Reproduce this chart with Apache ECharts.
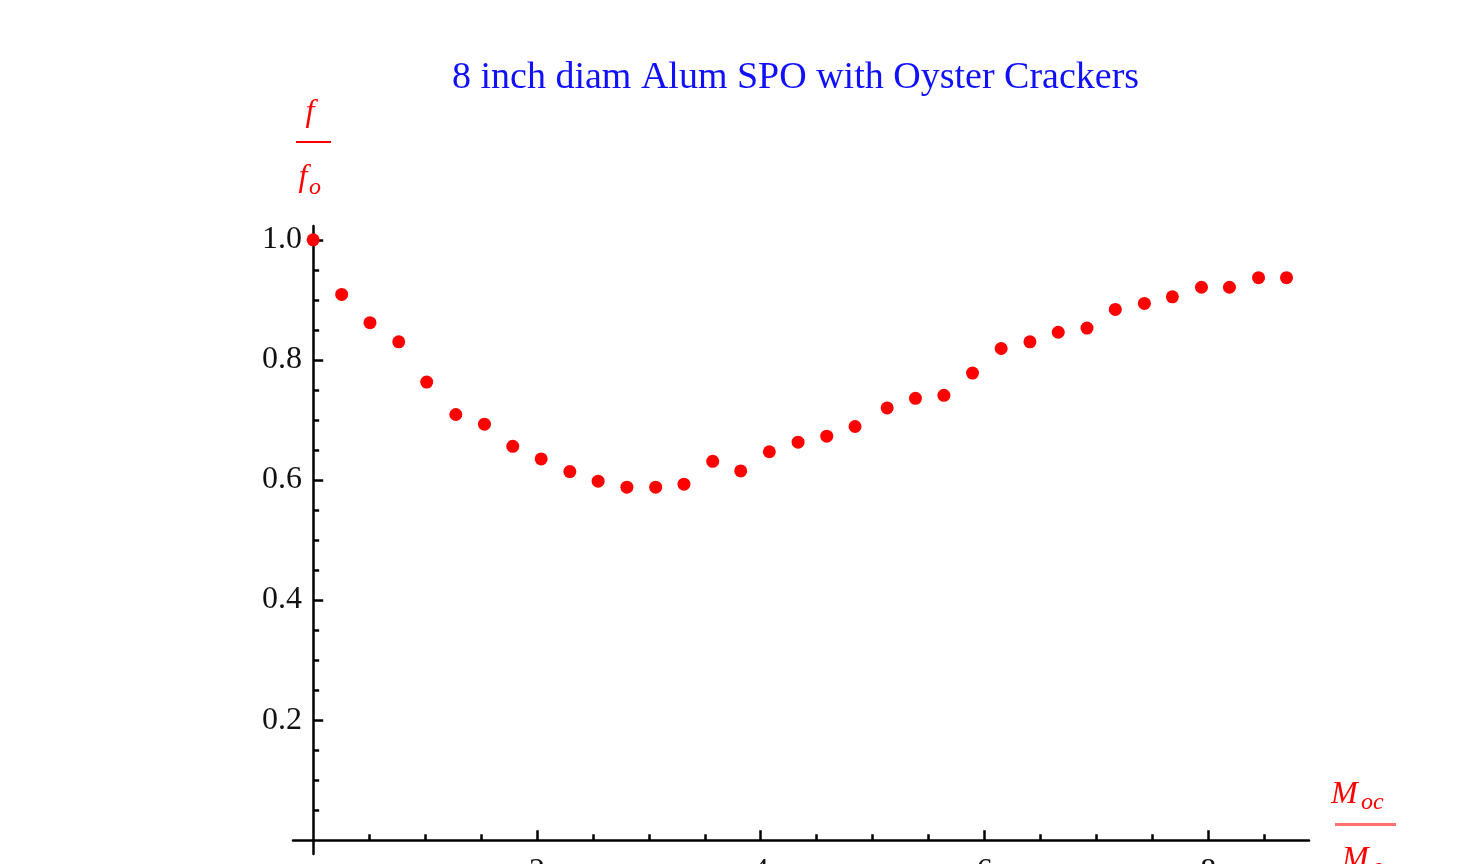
<!DOCTYPE html>
<html>
<head>
<meta charset="utf-8">
<script src="https://cdn.jsdelivr.net/npm/echarts@6/dist/echarts.min.js"></script>
<style>
html,body{margin:0;padding:0;background:#fff;}
#chart{width:1477px;height:864px;}
</style>
</head>
<body>
<div id="chart"></div>
<script>
// ---- data ----
const massRatio = [0, 0.255, 0.508, 0.765, 1.015, 1.275, 1.531, 1.784, 2.038, 2.294, 2.547, 2.804, 3.061, 3.314, 3.571, 3.821, 4.077, 4.334, 4.590, 4.843, 5.130, 5.383, 5.637, 5.893, 6.149, 6.406, 6.659, 6.916, 7.169, 7.429, 7.679, 7.939, 8.189, 8.449, 8.699];
const freqRatio = [1.0, 0.909, 0.862, 0.830, 0.763, 0.709, 0.693, 0.656, 0.635, 0.614, 0.598, 0.588, 0.588, 0.593, 0.631, 0.615, 0.647, 0.663, 0.673, 0.689, 0.720, 0.736, 0.741, 0.778, 0.819, 0.830, 0.846, 0.853, 0.884, 0.894, 0.905, 0.921, 0.921, 0.937, 0.937];
const xMajorTicks = [2, 4, 6, 8];
const xMinorTicks = [0.5, 1, 1.5, 2.5, 3, 3.5, 4.5, 5, 5.5, 6.5, 7, 7.5, 8.5];
const yMajorTicks = [0.2, 0.4, 0.6, 0.8, 1.0];
const yMinorTicks = [0.05, 0.1, 0.15, 0.25, 0.3, 0.35, 0.45, 0.5, 0.55, 0.65, 0.7, 0.75, 0.85, 0.9, 0.95];
const titleText = '8 inch diam Alum SPO with Oyster Crackers';

// ---- chart ----
const chart = echarts.init(document.getElementById('chart'), null, {renderer: 'canvas'});
const serif = '"Liberation Serif", "DejaVu Serif", serif';
const axisColor = '#000';
const red = '#ff0000';

const xRange = {min: -0.18, max: 8.9};
const yRange = {min: -0.023, max: 1.023};

const data = massRatio.map((x, i) => [x, freqRatio[i]]);

const option = {
  animation: false,
  backgroundColor: '#fff',
  title: {
    text: titleText,
    left: 452,
    top: 59,
    padding: 0,
    textStyle: {fontFamily: serif, fontSize: 38, fontWeight: 'normal', color: '#1010ff'}
  },
  grid: {left: 293, right: 168, top: 226, bottom: 10, containLabel: false, outerBoundsMode: 'none'},
  xAxis: [
    {
      type: 'value', min: xRange.min, max: xRange.max, position: 'bottom',
      axisLine: {show: true, onZero: true, onZeroAxisIndex: 0, lineStyle: {color: axisColor, width: 2.5}},
      axisTick: {show: true, inside: true, length: 10, customValues: xMajorTicks, lineStyle: {color: axisColor, width: 2.5}},
      axisLabel: {show: true, customValues: xMajorTicks, margin: 2, fontFamily: serif, fontSize: 32, color: '#111', hideOverlap: false},
      splitLine: {show: false}
    },
    {
      type: 'value', min: xRange.min, max: xRange.max, position: 'bottom',
      axisLine: {show: false, onZero: true, onZeroAxisIndex: 0},
      axisTick: {show: true, inside: true, length: 6, customValues: xMinorTicks, lineStyle: {color: axisColor, width: 2.5}},
      axisLabel: {show: false},
      splitLine: {show: false}
    }
  ],
  yAxis: [
    {
      type: 'value', min: yRange.min, max: yRange.max, position: 'left',
      axisLine: {show: true, onZero: true, onZeroAxisIndex: 0, lineStyle: {color: axisColor, width: 2.5}},
      axisTick: {show: true, inside: true, length: 10, customValues: yMajorTicks, lineStyle: {color: axisColor, width: 2.5}},
      axisLabel: {show: true, customValues: yMajorTicks, margin: -9, fontFamily: serif, fontSize: 32, color: '#111',
        formatter: v => v.toFixed(1)},
      splitLine: {show: false}
    },
    {
      type: 'value', min: yRange.min, max: yRange.max, position: 'left',
      axisLine: {show: false, onZero: true, onZeroAxisIndex: 0},
      axisTick: {show: true, inside: true, length: 6, customValues: yMinorTicks, lineStyle: {color: axisColor, width: 2.5}},
      axisLabel: {show: false},
      splitLine: {show: false}
    }
  ],
  series: [{
    type: 'scatter',
    xAxisIndex: 0, yAxisIndex: 0,
    data: data,
    symbol: 'circle',
    symbolSize: 13,
    clip: false,
    itemStyle: {color: red, opacity: 1},
    z: 1
  }],
  graphic: [
    // y-axis label: f / f_o
    {type: 'text', x: 310, y: 113, z: 10, style: {text: 'f', fill: red, font: 'italic 32px ' + serif, align: 'center', verticalAlign: 'middle'}},
    {type: 'rect', x: 296, y: 141, z: 10, shape: {width: 35, height: 2}, style: {fill: red}},
    {type: 'text', x: 303, y: 178, z: 10, style: {text: 'f', fill: red, font: 'italic 32px ' + serif, align: 'center', verticalAlign: 'middle'}},
    {type: 'text', x: 309, y: 188, z: 10, style: {text: 'o', fill: red, font: 'italic 24px ' + serif, align: 'left', verticalAlign: 'middle'}},
    // x-axis label: M_oc / M_o
    {type: 'text', x: 1331, y: 795, z: 10, style: {text: 'M', fill: red, font: 'italic 32px ' + serif, align: 'left', verticalAlign: 'middle'}},
    {type: 'text', x: 1361, y: 803, z: 10, style: {text: 'oc', fill: red, font: 'italic 24px ' + serif, align: 'left', verticalAlign: 'middle'}},
    {type: 'rect', x: 1335, y: 823, z: 10, shape: {width: 61, height: 3}, style: {fill: '#ff7070'}},
    {type: 'text', x: 1342, y: 860, z: 10, style: {text: 'M', fill: red, font: 'italic 32px ' + serif, align: 'left', verticalAlign: 'middle'}},
    {type: 'text', x: 1372, y: 868, z: 10, style: {text: 'o', fill: red, font: 'italic 24px ' + serif, align: 'left', verticalAlign: 'middle'}}
  ]
};
chart.setOption(option);
</script>
</body>
</html>
